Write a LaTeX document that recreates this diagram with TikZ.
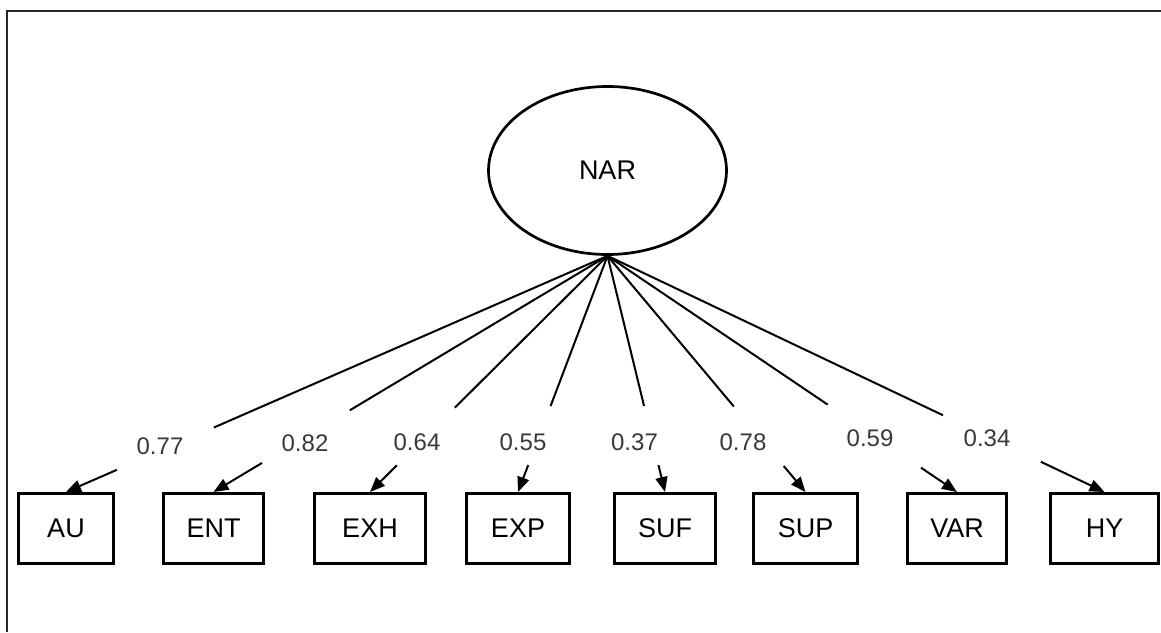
\documentclass[tikz,border=0pt]{standalone}
\usepackage{fontspec}
\setmainfont{Liberation Sans}
\usetikzlibrary{arrows.meta,calc,shapes.geometric}

\tikzset{
  latent/.style={draw, ellipse, line width=2.7pt, inner sep=0pt,
    minimum width=238pt, minimum height=168pt,
    font=\fontsize{27}{30}\selectfont},
  observed/.style={draw, rectangle, line width=3pt, inner sep=0pt,
    minimum height=70pt, font=\fontsize{27}{30}\selectfont},
  link/.style={line width=2pt},
  loadarrow/.style={link, -{Triangle[length=15pt,width=12pt]}},
  loading/.style={font=\fontsize{24}{28}\selectfont, text=black!78, inner sep=0pt},
  frame/.style={line width=2pt, black!85}
}

\begin{document}
\begin{tikzpicture}[x=1pt,y=-1pt]
  \useasboundingbox (0,0) rectangle (1161,632);

  % outer frame (runs off the page on the right and at the bottom)
  \draw[frame] (7,632) -- (7,11) -- (1161,11);

  % latent factor
  \node[latent] (NAR) at (607.5,170.5) {NAR};

  % indicators
  \node[observed, minimum width=95pt]  (AU)  at (66,528.5)   {AU};
  \node[observed, minimum width=100pt] (ENT) at (213.5,528.5) {ENT};
  \node[observed, minimum width=111pt] (EXH) at (370,528.5)  {EXH};
  \node[observed, minimum width=103pt] (EXP) at (518,528.5)  {EXP};
  \node[observed, minimum width=101pt] (SUF) at (665,528.5)  {SUF};
  \node[observed, minimum width=104pt] (SUP) at (805.5,528.5) {SUP};
  \node[observed, minimum width=99pt]  (VAR) at (957,528.5)  {VAR};
  \node[observed, minimum width=108pt] (HY)  at (1104.5,528.5) {HY};

  % loading labels
  \node[loading] (lAU)  at (160,446)  {0.77};
  \node[loading] (lENT) at (305,443)  {0.82};
  \node[loading] (lEXH) at (417,442)  {0.64};
  \node[loading] (lEXP) at (523,442)  {0.55};
  \node[loading] (lSUF) at (634.5,442) {0.37};
  \node[loading] (lSUP) at (743,442)  {0.78};
  \node[loading] (lVAR) at (870,438)  {0.59};
  \node[loading] (lHY)  at (987,438)  {0.34};

  % loadings: each path is broken where its value is printed
  \foreach \ind/\a/\b in {AU/0.727/0.906, ENT/0.654/0.877, EXH/0.643/0.887,
                          EXP/0.636/0.886, SUF/0.636/0.886, SUP/0.638/0.89,
                          VAR/0.63/0.897, HY/0.675/0.872}{
    \draw[link] (NAR.south) -- ($(NAR.south)!\a!(\ind.north)$);
    \draw[loadarrow] ($(NAR.south)!\b!(\ind.north)$) -- (\ind.north);
  }
\end{tikzpicture}
\end{document}
